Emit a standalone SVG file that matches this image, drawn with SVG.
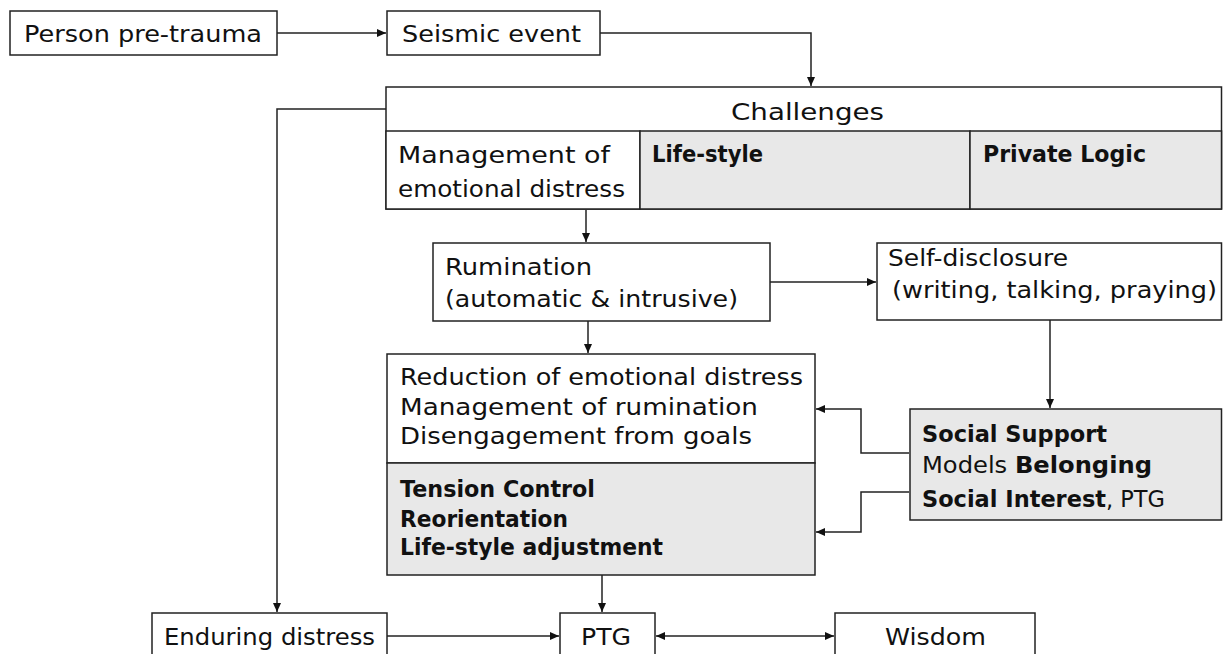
<svg xmlns="http://www.w3.org/2000/svg" width="1223" height="654" viewBox="0 0 1223 654">
<style>
.box{fill:#ffffff;stroke:#222222;stroke-width:1.5}
.grey{fill:#e8e8e8;stroke:#222222;stroke-width:1.5}
text{font-family:"DejaVu Sans","Liberation Sans",sans-serif;font-size:23px;fill:#111111}
.b{font-weight:bold}
.con{fill:none;stroke:#222222;stroke-width:1.5}
</style>
<defs>
<marker id="ah" markerUnits="userSpaceOnUse" markerWidth="10" markerHeight="8" refX="9" refY="4" orient="auto-start-reverse">
<path d="M0,0 L9,4 L0,8 z" fill="#111111"/>
</marker>
</defs>
<rect width="1223" height="654" fill="#ffffff"/>

<g id="connectors">
<path class="con" d="M277,33 H386" marker-end="url(#ah)"/>
<path class="con" d="M600,33 H811 V86" marker-end="url(#ah)"/>
<path class="con" d="M386,109 H277 V612" marker-end="url(#ah)"/>
<path class="con" d="M586,210 V242" marker-end="url(#ah)"/>
<path class="con" d="M770,282 H876" marker-end="url(#ah)"/>
<path class="con" d="M1050,320 V408" marker-end="url(#ah)"/>
<path class="con" d="M588,321 V353" marker-end="url(#ah)"/>
<path class="con" d="M909,453 H861 V409 H816" marker-end="url(#ah)"/>
<path class="con" d="M909,492 H861 V532 H816" marker-end="url(#ah)"/>
<path class="con" d="M602,575 V612" marker-end="url(#ah)"/>
<path class="con" d="M387,636 H559" marker-end="url(#ah)"/>
<path class="con" d="M656,636 H834" marker-start="url(#ah)" marker-end="url(#ah)"/>
</g>

<g id="person">
<rect class="box" x="10" y="11" width="267" height="44"/>
<text x="24" y="42" textLength="238" lengthAdjust="spacingAndGlyphs">Person pre-trauma</text>
</g>

<g id="seismic">
<rect class="box" x="387" y="11" width="213" height="44"/>
<text x="402" y="42" textLength="179" lengthAdjust="spacingAndGlyphs">Seismic event</text>
</g>

<g id="challenges">
<rect class="box" x="386" y="87" width="835.5" height="122"/>
<text x="731" y="120" textLength="153" lengthAdjust="spacingAndGlyphs">Challenges</text>
<rect class="box" x="386" y="131" width="254" height="78"/>
<text x="398" y="163" textLength="212" lengthAdjust="spacingAndGlyphs">Management of</text>
<text x="398" y="197" textLength="227" lengthAdjust="spacingAndGlyphs">emotional distress</text>
<rect class="grey" x="640" y="131" width="330" height="78"/>
<text class="b" x="652" y="162" textLength="111" lengthAdjust="spacingAndGlyphs">Life-style</text>
<rect class="grey" x="970" y="131" width="251.5" height="78"/>
<text class="b" x="983" y="162" textLength="163" lengthAdjust="spacingAndGlyphs">Private Logic</text>
</g>

<g id="rumination">
<rect class="box" x="433" y="243" width="337" height="78"/>
<text x="445" y="275" textLength="147" lengthAdjust="spacingAndGlyphs">Rumination</text>
<text x="445" y="307" textLength="293" lengthAdjust="spacingAndGlyphs">(automatic &amp; intrusive)</text>
</g>

<g id="selfdisclosure">
<rect class="box" x="877" y="243" width="344.5" height="77"/>
<text x="888" y="266" textLength="180" lengthAdjust="spacingAndGlyphs">Self-disclosure</text>
<text x="892" y="298" textLength="325" lengthAdjust="spacingAndGlyphs">(writing, talking, praying)</text>
</g>

<g id="reduction">
<rect class="box" x="387" y="354" width="428" height="109"/>
<rect class="grey" x="387" y="463" width="428" height="112"/>
<text x="400" y="385" textLength="403" lengthAdjust="spacingAndGlyphs">Reduction of emotional distress</text>
<text x="400" y="415" textLength="358" lengthAdjust="spacingAndGlyphs">Management of rumination</text>
<text x="400" y="444" textLength="352" lengthAdjust="spacingAndGlyphs">Disengagement from goals</text>
<text class="b" x="400" y="497" textLength="195" lengthAdjust="spacingAndGlyphs">Tension Control</text>
<text class="b" x="400" y="527" textLength="168" lengthAdjust="spacingAndGlyphs">Reorientation</text>
<text class="b" x="400" y="555" textLength="263" lengthAdjust="spacingAndGlyphs">Life-style adjustment</text>
</g>

<g id="social">
<rect class="grey" x="910" y="409" width="311.5" height="111"/>
<text class="b" x="922" y="442" textLength="185" lengthAdjust="spacingAndGlyphs">Social Support</text>
<text x="922" y="473" textLength="230" lengthAdjust="spacingAndGlyphs">Models <tspan class="b">Belonging</tspan></text>
<text x="922" y="507" textLength="243" lengthAdjust="spacingAndGlyphs"><tspan class="b">Social Interest</tspan>, PTG</text>
</g>

<g id="enduring">
<rect class="box" x="152" y="613" width="235" height="50"/>
<text x="164" y="645" textLength="211" lengthAdjust="spacingAndGlyphs">Enduring distress</text>
</g>

<g id="ptg">
<rect class="box" x="560" y="613" width="95" height="50"/>
<text x="581" y="645" textLength="50" lengthAdjust="spacingAndGlyphs">PTG</text>
</g>

<g id="wisdom">
<rect class="box" x="835" y="613" width="200" height="50"/>
<text x="885" y="645" textLength="101" lengthAdjust="spacingAndGlyphs">Wisdom</text>
</g>
</svg>
